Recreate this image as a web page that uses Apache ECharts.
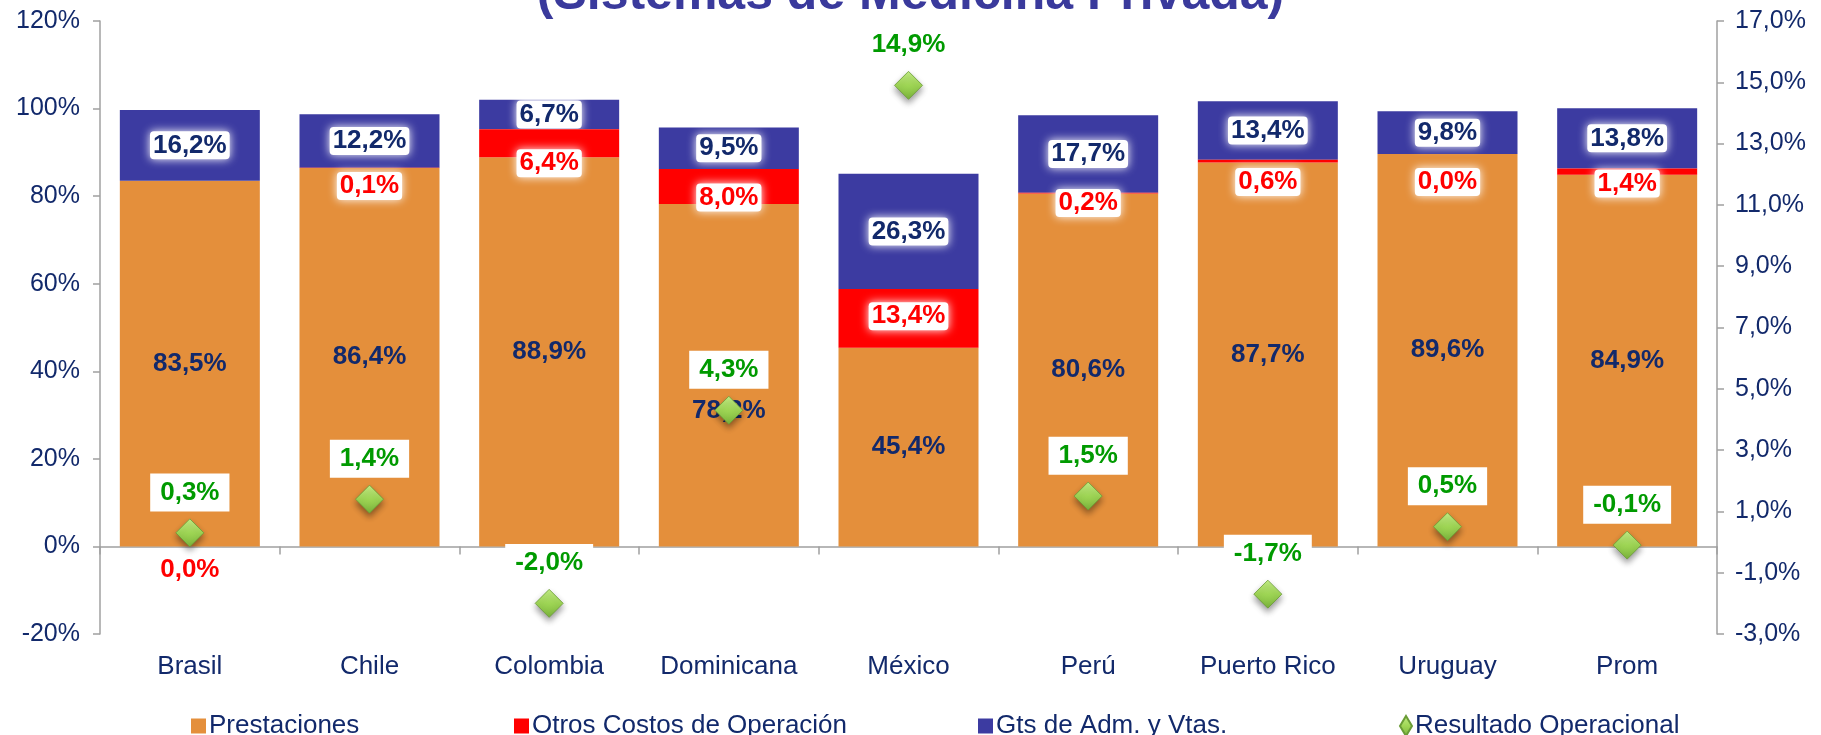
<!DOCTYPE html>
<html>
<head>
<meta charset="utf-8">
<script src="https://cdn.jsdelivr.net/npm/echarts@6/dist/echarts.min.js"></script>
<style>
  html, body { margin: 0; padding: 0; background: #fff; }
  #chart { width: 1821px; height: 735px; }
</style>
</head>
<body>
<div id="chart"></div>
<script>
// Estructura de costos y resultado operacional por país.
var paises = ["Brasil", "Chile", "Colombia", "Dominicana", "México", "Perú", "Puerto Rico", "Uruguay", "Prom"];
var prestaciones = [83.5, 86.4, 88.9, 78.2, 45.4, 80.6, 87.7, 89.6, 84.9];
var otrosCostos = [0.0, 0.1, 6.4, 8.0, 13.4, 0.2, 0.6, 0.0, 1.4];
var gtsAdm = [16.2, 12.2, 6.7, 9.5, 26.3, 17.7, 13.4, 9.8, 13.8];
var resultado = [0.3, 1.4, -2.0, 4.3, 14.9, 1.5, -1.7, 0.5, -0.1];

// label nudges (px, vertical) as placed by hand in the original
var prestDy = [0, 0, 0, 36, 0, 0, 0, 0, 0];
var otrosDy = [389, 18, 20, 11, -2, 10, 21, 28, 12];

(function () {
  "use strict";

  var NAVY = "#12296b";
  var FONT = "'Liberation Sans', Arial, sans-serif";

  function pct1(v) { return Number(v).toFixed(1).replace(".", ",") + "%"; }

  function withDy(vals, dys) {
    return vals.map(function (v, i) {
      return dys[i] ? { value: v, label: { offset: [0, dys[i]] } } : v;
    });
  }

  var glow = {
    backgroundColor: "#fff",
    shadowColor: "#fff",
    shadowBlur: 10,
    borderRadius: 4,
    padding: [1, 3]
  };

  function barLabel(color, extra) {
    var l = {
      show: true, position: "inside",
      color: color, fontSize: 26, fontWeight: "bold", fontFamily: FONT,
      formatter: function (p) { return pct1(p.value); }
    };
    if (extra) for (var k in extra) l[k] = extra[k];
    return l;
  }

  function legendAt(left, name, icon) {
    return {
      left: left, top: 708,
      data: [{ name: name, icon: icon }],
      itemWidth: icon === "diamond" ? 12 : 15,
      itemHeight: icon === "diamond" ? 20 : 15,
      textStyle: { color: NAVY, fontSize: 26, fontFamily: FONT, padding: [0, 0, 0, -2] }
    };
  }

  var gray = { color: "#a0a0a0", width: 1.5 };

  var chart = echarts.init(document.getElementById("chart"), null, { renderer: "canvas" });
  chart.setOption({
    backgroundColor: "#fff",
    animation: false,
    title: {
      text: "(Sistemas de Medicina Privada)",
      left: "center", top: -35,
      textStyle: { color: "#3a3a9c", fontSize: 50, fontWeight: "bold", fontFamily: FONT }
    },
    legend: [
      legendAt(186, "Prestaciones", "rect"),
      legendAt(509, "Otros Costos de Operación", "rect"),
      legendAt(973, "Gts de Adm. y Vtas.", "rect"),
      legendAt(1394, "Resultado Operacional", "diamond")
    ],
    grid: { left: 100, right: 104, top: 21, bottom: 101 },
    xAxis: [
      {
        type: "category", data: paises,
        axisLine: { show: false, onZero: false },
        axisTick: { show: false },
        axisLabel: { color: NAVY, fontSize: 26, fontFamily: FONT, margin: 20 }
      },
      {
        type: "category", data: paises, position: "bottom",
        axisLine: { show: true, onZero: true, lineStyle: gray },
        axisTick: { show: true, length: 8, lineStyle: gray },
        axisLabel: { show: false }
      }
    ],
    yAxis: [
      {
        type: "value", min: -20, max: 120, interval: 20,
        axisLine: { show: true, lineStyle: gray },
        axisTick: { show: true, length: 7, lineStyle: gray },
        splitLine: { show: false },
        axisLabel: {
          color: NAVY, fontSize: 25, fontFamily: FONT, margin: 20,
          formatter: function (v) { return v + "%"; }
        }
      },
      {
        type: "value", min: -3, max: 17, interval: 2, position: "right",
        axisLine: { show: true, lineStyle: gray },
        axisTick: { show: true, length: 7, lineStyle: gray },
        splitLine: { show: false },
        axisLabel: {
          color: NAVY, fontSize: 25, fontFamily: FONT, margin: 18,
          formatter: pct1
        }
      }
    ],
    series: [
      {
        name: "Prestaciones", type: "bar", stack: "costos", barWidth: 140,
        data: withDy(prestaciones, prestDy),
        itemStyle: { color: "#e48f3b" },
        label: barLabel(NAVY)
      },
      {
        name: "Otros Costos de Operación", type: "bar", stack: "costos", barWidth: 140,
        data: withDy(otrosCostos, otrosDy),
        itemStyle: { color: "#ff0000" },
        label: barLabel("#ff0000", glow),
        z: 3
      },
      {
        name: "Gts de Adm. y Vtas.", type: "bar", stack: "costos", barWidth: 140,
        data: gtsAdm,
        itemStyle: { color: "#3c3ba1" },
        label: barLabel(NAVY, glow)
      },
      {
        name: "Resultado Operacional", type: "scatter", yAxisIndex: 1,
        data: resultado,
        symbol: "diamond", symbolSize: 28,
        itemStyle: {
          opacity: 1,
          color: {
            type: "linear", x: 0, y: 0, x2: 0, y2: 1,
            colorStops: [
              { offset: 0, color: "#c4ee86" },
              { offset: 0.5, color: "#9fd655" },
              { offset: 1, color: "#79b23a" }
            ]
          },
          borderColor: "#6a9c36", borderWidth: 0.8,
          shadowColor: "rgba(0,0,0,0.4)", shadowBlur: 6, shadowOffsetY: 4
        },
        label: {
          show: true, position: "top", distance: 7,
          color: "#009a00", fontSize: 26, fontWeight: "bold", fontFamily: FONT,
          backgroundColor: "#fff", padding: [6, 10],
          formatter: function (p) { return pct1(p.value); }
        },
        z: 5
      }
    ]
  });
  window.addEventListener("resize", function () { chart.resize(); });
})();
</script>
</body>
</html>
